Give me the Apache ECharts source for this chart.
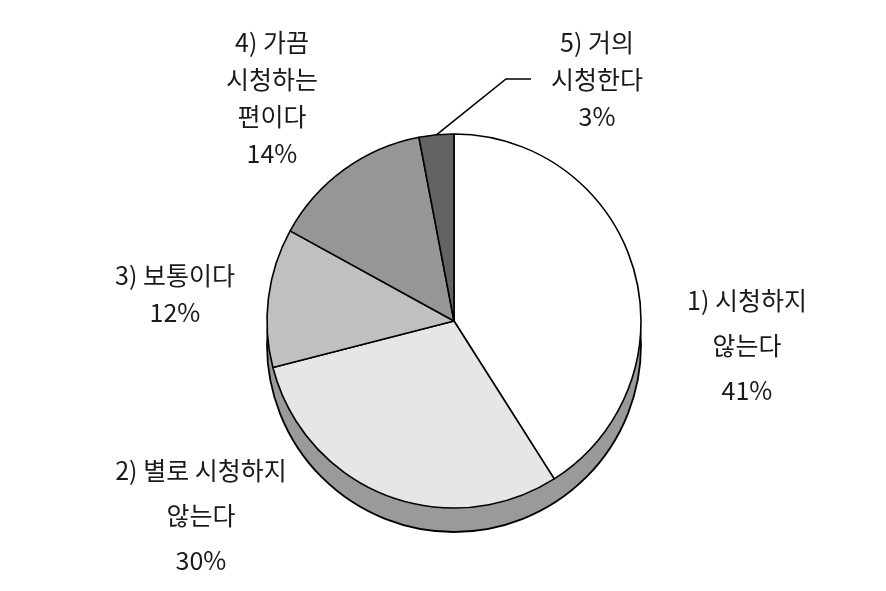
<!DOCTYPE html>
<html>
<head>
<meta charset="utf-8">
<script src="https://cdn.jsdelivr.net/npm/echarts@6/dist/echarts.min.js"></script>
<style>
  html, body { margin: 0; padding: 0; background: #fff; }
  #main { width: 886px; height: 591px; }
</style>
</head>
<body>
<div id="main"></div>
<script>
// 응답 항목과 비율(%)
var categories = ['1) 시청하지\n않는다', '2) 별로 시청하지\n않는다', '3) 보통이다', '4) 가끔\n시청하는\n편이다', '5) 거의\n시청한다'];
var values = [41, 30, 12, 14, 3];

var sliceColors = ['#ffffff', '#e6e6e6', '#c0c0c0', '#969696', '#636363'];
// 라벨 위치 (중심 x, y)와 줄 간격
var labelPos = [[747, 345], [201, 515], [175, 294], [272, 98], [587, 79]];
var labelLineHeight = [45, 45, 37, 37, 37];

var total = values.reduce(function (a, b) { return a + b; }, 0);

var myChart = echarts.init(document.getElementById('main'));

var option = {
    backgroundColor: '#ffffff',
    animation: false,
    series: [
        {
            // 입체 느낌의 옆면
            type: 'pie',
            silent: true,
            z: 1,
            center: [454, 345],
            radius: 187,
            label: { show: false },
            labelLine: { show: false },
            itemStyle: { color: '#9a9a9a', borderColor: '#000', borderWidth: 1.8 },
            data: [{ value: total, name: 'side' }]
        },
        {
            type: 'pie',
            z: 2,
            center: [454, 321],
            radius: 187,
            startAngle: 90,
            clockwise: true,
            avoidLabelOverlap: false,
            itemStyle: { borderColor: '#000', borderWidth: 1.6 },
            label: {
                show: true,
                position: 'outside',
                formatter: '{b}\n{c}%',
                color: '#1a1a1a',
                fontFamily: '"Noto Sans CJK KR", sans-serif',
                fontSize: 25,
                align: 'center'
            },
            labelLine: { show: false },
            labelLayout: function (params) {
                var p = labelPos[params.dataIndex];
                return { x: p[0], y: p[1], align: 'center', verticalAlign: 'middle' };
            },
            data: values.map(function (v, i) {
                var item = {
                    value: v,
                    name: categories[i],
                    itemStyle: { color: sliceColors[i] },
                    label: { lineHeight: labelLineHeight[i] }
                };
                if (i === 4) {
                    item.label.padding = [0, 0, 0, 20];
                    item.labelLine = {
                        show: true,
                        length: 20,
                        length2: 25,
                        lineStyle: { color: '#000', width: 1.6 }
                    };
                }
                return item;
            })
        }
    ]
};

myChart.setOption(option);
</script>
</body>
</html>
